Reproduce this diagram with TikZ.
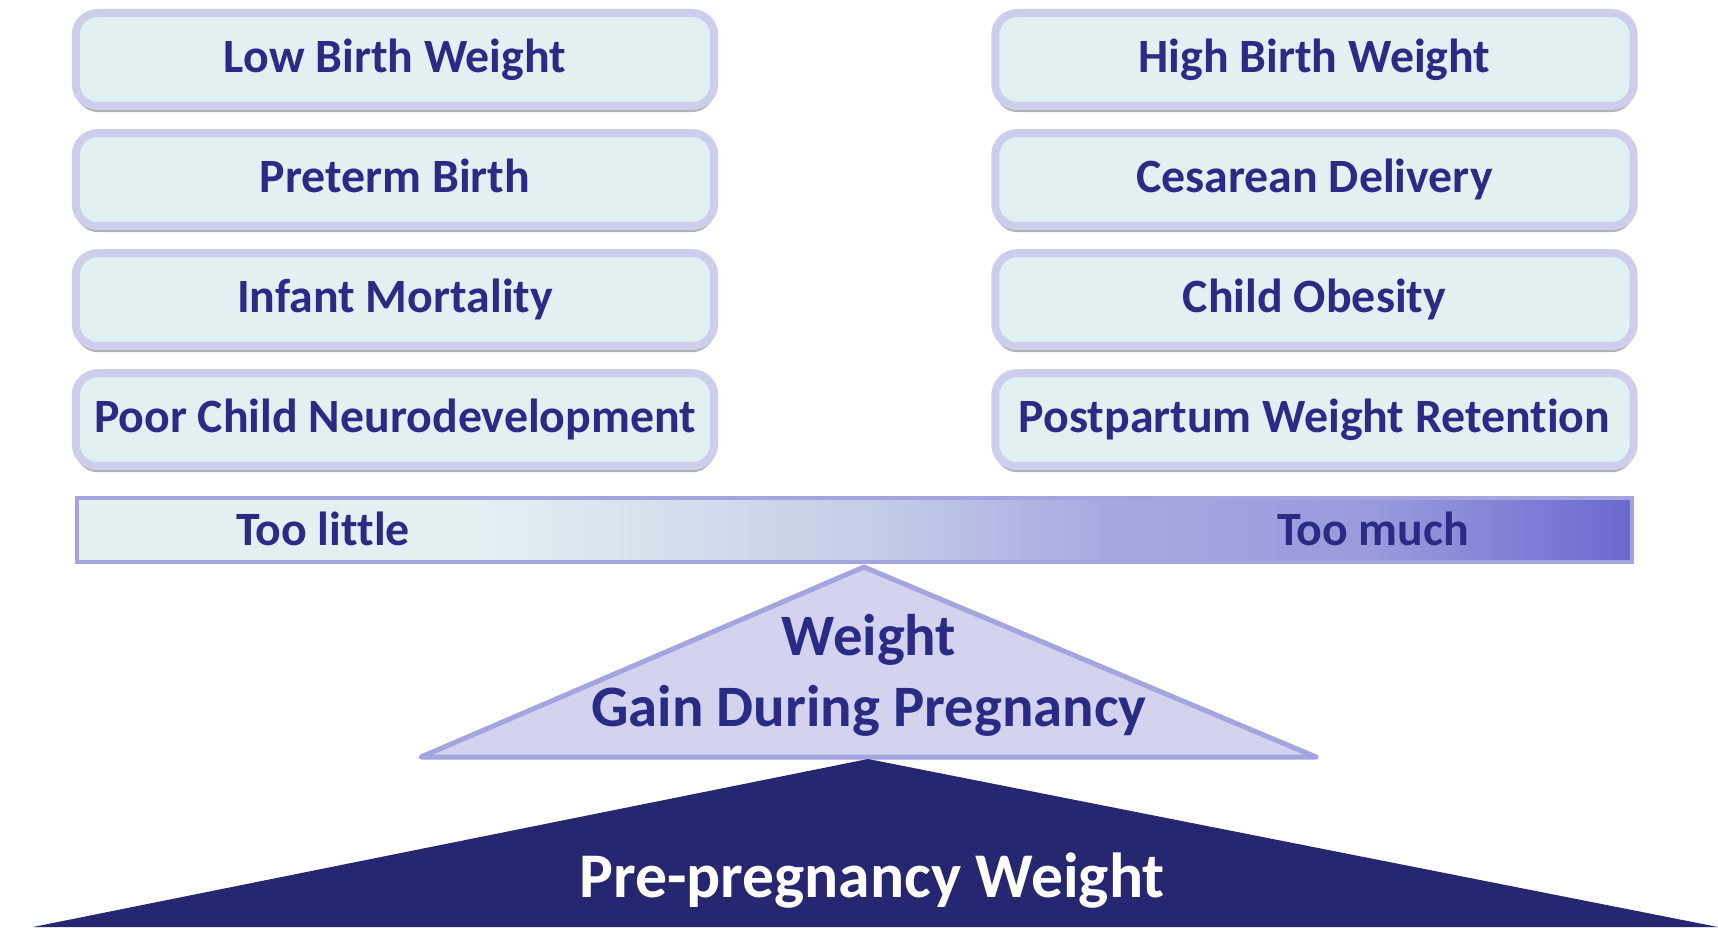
\documentclass[tikz,border=0pt]{standalone}
\usepackage{fontspec}
\setmainfont{Carlito}[Ligatures=NoCommon]
\usetikzlibrary{positioning,shadows}

\definecolor{navy}{HTML}{2B2B86}
\definecolor{boxfill}{HTML}{E2F0F2}
\definecolor{boxline}{HTML}{CDCDEC}
\definecolor{barline}{HTML}{A4A4DF}
\definecolor{barmid}{HTML}{C3CBE7}
\definecolor{barend}{HTML}{6A6ACF}
\definecolor{trifill}{HTML}{D3D3F0}
\definecolor{darkbase}{HTML}{272771}

\pgfdeclarehorizontalshading{weightbar}{100bp}{color(0bp)=(boxfill); color(38bp)=(boxfill); color(51bp)=(barmid); color(58bp)=(barline!95!white); color(67bp)=(barline!80!barend); color(75bp)=(barend); color(100bp)=(barend)}

\begin{document}
\begin{tikzpicture}[x=0.01cm, y=-0.01cm, node distance=0.19cm,
		outcome/.style={rectangle, rounded corners=0.22cm, draw=boxline, line width=0.08cm, fill=boxfill,
			minimum width=6.38cm, minimum height=0.93cm, text=navy, font=\fontsize{13.6}{16}\selectfont\bfseries,
			text height=0.72em, text depth=0pt,
			drop shadow={shadow xshift=0cm, shadow yshift=-0.06cm, fill=black, opacity=0.3}},
		bar/.style={rectangle, draw=barline, line width=0.04cm, shading=weightbar,
			minimum width=15.55cm, minimum height=0.64cm},
		end text/.style={text=navy, font=\fontsize{13.6}{16}\selectfont\bfseries},
		gain text/.style={text=navy, align=center, font=\fontsize{16.7}{20.2}\selectfont\bfseries},
		base text/.style={text=white, font=\fontsize{18.1}{21}\selectfont\bfseries}]
		
		\useasboundingbox (0,0) rectangle (1718,927);
		
		\node[outcome] (lbw) at (395,59.5) {Low Birth Weight};
		\node[outcome] (ptb) [below=of lbw] {Preterm Birth};
		\node[outcome] (im) [below=of ptb] {Infant Mortality};
		\node[outcome] (pcn) [below=of im] {Poor Child Neurodevelopment};
		
		\node[outcome] (hbw) at (1314.5,59.5) {High Birth Weight};
		\node[outcome] (cd) [below=of hbw] {Cesarean Delivery};
		\node[outcome] (co) [below=of cd] {Child Obesity};
		\node[outcome] (pwr) [below=of co] {Postpartum Weight Retention};
		
		\node[bar] (scale) at (854.5,530) {};
		\node[end text] (little) at (323,529) {Too little};
		\node[end text] (much) at (1373,529) {Too much};
		
		% fulcrum
		\coordinate (top) at (864,567);
		\coordinate (gl) at (421,757);
		\coordinate (gr) at (1316,757);
		\draw[draw=barline, line width=0.05cm, fill=trifill, line join=round] (gl) -- (top) -- (gr) -- cycle;
		\node[gain text] (gain) at (869,675) {Weight\\Gain During Pregnancy};
		
		\coordinate (peak) at (868,759);
		\coordinate (bl) at (33,927);
		\coordinate (br) at (1718,927);
		\fill[darkbase] (bl) -- (peak) -- (br) -- cycle;
		\node[base text] (pre) at (872,881) {Pre-pregnancy Weight};
		
	\end{tikzpicture}
\end{document}
